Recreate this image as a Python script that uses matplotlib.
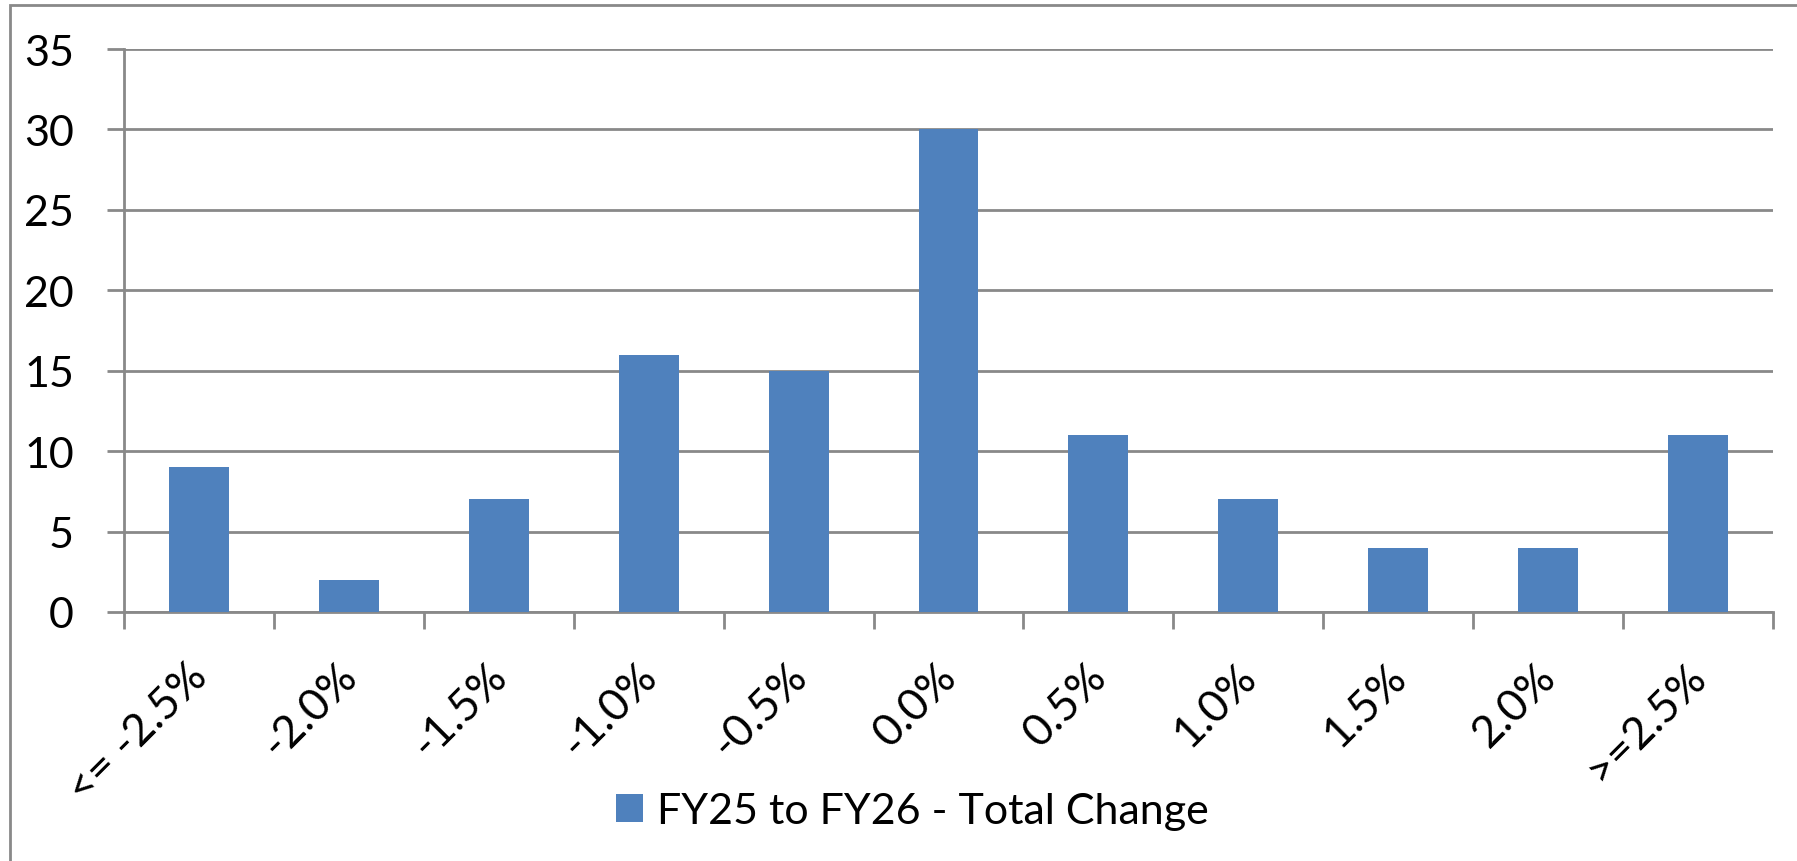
import matplotlib.pyplot as plt
import matplotlib.patches as patches
import matplotlib.transforms as mtransforms
import numpy as np

# ==============================================================
# Data
# ==============================================================
categories = ["<= -2.5%", "-2.0%", "-1.5%", "-1.0%", "-0.5%", "0.0%",
              "0.5%", "1.0%", "1.5%", "2.0%", ">=2.5%"]
counts = [9, 2, 7, 16, 15, 30, 11, 7, 4, 4, 11]
series_name = "FY25 to FY26 - Total Change"
y_ticks = [0, 5, 10, 15, 20, 25, 30, 35]

BAR_COLOR = "#4F81BD"
GRID_COLOR = "#898989"
FONT = "Lato"

plt.rcParams['font.family'] = [FONT, 'DejaVu Sans']

W, H = 1797, 862
fig = plt.figure(figsize=(W / 100, H / 100), dpi=100)

# outer chart border (right and bottom cut off in the original)
fig.patches.append(patches.Rectangle((10 / W, -0.1), 1.2, 1 - 6 / H + 0.1,
                                     transform=fig.transFigure, fill=False,
                                     edgecolor=GRID_COLOR, linewidth=2))

ax = fig.add_axes([124 / W, 1 - 613 / H, (1773 - 124) / W, (613 - 50) / H])

x = np.arange(len(categories))
ax.bar(x, counts, width=0.4, color=BAR_COLOR, label=series_name, zorder=3)

ax.set_xlim(-0.5, len(categories) - 0.5)
ax.set_ylim(0, 35)
ax.set_yticks(y_ticks)
ax.grid(axis='y', color=GRID_COLOR, linewidth=2, zorder=0)

for s in ['top', 'right']:
    ax.spines[s].set_visible(False)
for s in ['left', 'bottom']:
    ax.spines[s].set_color(GRID_COLOR)
    ax.spines[s].set_linewidth(2)

ax.tick_params(axis='y', length=12, width=2, color=GRID_COLOR, pad=24,
               labelsize=31)

# category labels on major ticks (hidden), boundary ticks as minor ticks
ax.set_xticks(x)
ax.set_xticklabels(categories, fontsize=32, rotation=45, ha='right',
                   rotation_mode='anchor')
ax.tick_params(axis='x', which='major', length=0, pad=31)
shift = mtransforms.ScaledTranslation(-0.13, 0, fig.dpi_scale_trans)
for lbl in ax.get_xticklabels():
    lbl.set_transform(lbl.get_transform() + shift)
ax.set_xticks(np.arange(len(categories) + 1) - 0.5, minor=True)
ax.tick_params(axis='x', which='minor', length=12, width=2, color=GRID_COLOR)

fig.legend(loc='center', bbox_to_anchor=(0.5 + 14 / W, 1 - 812 / H),
           frameon=False, fontsize=31, handlelength=0.62, handleheight=0.62,
           handletextpad=0.33)

fig.savefig("out.png", dpi=100)
